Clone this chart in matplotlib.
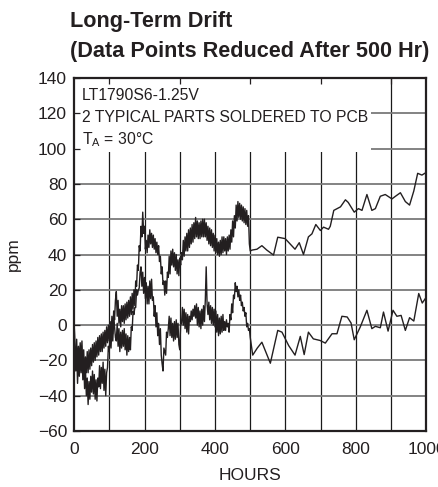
import numpy as np
import matplotlib
matplotlib.use('Agg')
from matplotlib import pyplot as plt
from matplotlib.patches import Rectangle

plt.rcParams['font.family'] = ['Liberation Sans', 'DejaVu Sans']
plt.rcParams['mathtext.default'] = 'regular'
INK = '#231f20'

# dense readings, one every 2.5 hr from 0 to 500 hr
dense_step = 2.5
part_a_dense = [
    3, -12, -20, -8, -24, -12, -21, -10, -20, -9, -24, -14, -30, -18, -27, -15,
    -27, -14, -25, -13, -23, -11, -21, -10, -20, -9, -18, -7, -17, -6, -15, -5,
    -15, -4, -13, -3, -12, -1, -10, 0, -9, 2, -6, 5, -5, 8, 3, 14,
    19, 5, 14, 1, 9, -1, 11, 2, 11, 1, 12, 3, 13, 4, 14, 5,
    16, 6, 18, 9, 20, 11, 25, 22, 34, 31, 45, 42, 56, 50, 64, 52,
    56, 43, 48, 41, 51, 44, 54, 46, 52, 44, 51, 43, 49, 41, 47, 40,
    45, 36, 39, 29, 33, 23, 25, 17, 25, 18, 30, 27, 39, 29, 42, 34,
    43, 33, 41, 31, 40, 29, 37, 28, 38, 34, 41, 37, 48, 39, 50, 42,
    52, 42, 54, 44, 55, 46, 57, 47, 58, 49, 61, 50, 59, 49, 58, 49,
    59, 50, 60, 50, 60, 50, 58, 48, 56, 46, 55, 45, 54, 44, 52, 42,
    51, 41, 49, 40, 47, 39, 48, 40, 50, 41, 50, 42, 49, 40, 50, 42,
    51, 43, 54, 47, 59, 50, 62, 55, 68, 59, 70, 61, 69, 60, 68, 59,
    67, 58, 66, 57, 65, 56, 62, 46, 42]
part_b_dense = [
    6, -16, -26, -14, -33, -19, -29, -16, -27, -15, -31, -21, -36, -25, -40, -30,
    -45, -32, -42, -29, -38, -26, -39, -28, -42, -31, -43, -30, -35, -23, -36, -24,
    -33, -21, -37, -25, -40, -27, -24, -12, -15, -4, -13, -1, -9, 3, -1, -7,
    -9, 1, -12, -2, -15, -4, -13, -3, -12, -2, -14, -5, -17, -6, -15, -7,
    -14, -1, -3, 8, 6, 10, 10, 20, 17, 20, 21, 30, 33, 22, 30, 18,
    27, 15, 24, 12, 22, 12, 25, 15, 26, 14, 16, 5, 11, -1, 7, -6,
    1, -11, -2, -17, -22, -26, -13, -15, -17, -4, -7, -2, 5, -6, 4, -7,
    1, -9, 2, -8, 3, -7, 1, -11, -14, 0, 1, 10, 0, 9, -2, 7,
    -4, 6, -5, 5, 2, 8, 3, 9, 5, 11, 4, 12, 0, 10, -1, 8,
    -2, 9, 0, 11, 2, 14, 33, 12, 6, 13, 3, 11, 1, 10, 0, 9,
    -1, 8, -4, 6, -6, 4, -5, 5, -4, 6, -3, 2, -3, 3, -1, 1,
    -4, 6, 3, 12, 7, 17, 15, 24, 19, 22, 16, 20, 14, 17, 11, 13,
    8, 10, 5, 7, -1, 1, -3, -2, -7]

# reduced readings after 500 hr
part_a_hours = [505, 519, 533, 547, 566, 578, 599, 613, 627, 639, 651, 665, 675, 686,
                699, 708, 722, 727, 737, 756, 770, 778, 795, 807, 817, 831, 845, 855,
                869, 883, 902, 912, 926, 940, 952, 964, 975, 987, 1000]
part_a_sparse = [42.5, 43, 45, 42.5, 39.7, 49.8, 49, 46, 43, 46.7, 40, 50, 51.7, 57,
                 53.6, 55.5, 54.3, 56, 65, 67, 71, 69.5, 64, 66, 65, 74, 65, 66,
                 73, 74, 71.5, 73, 75, 70, 68, 76, 86, 85, 86.6]
part_b_hours = [507, 520, 533, 557, 578, 590, 609, 627, 642, 653, 665, 679, 698, 713,
                732, 746, 760, 775, 786, 795, 812, 831, 845, 855, 869, 878, 891, 905,
                916, 928, 940, 952, 964, 978, 988, 1000]
part_b_sparse = [-17, -13, -9.7, -21.6, -3, -4, -11.6, -17, -6.4, -16.7, -4, -7.8, -8.7, -10.2,
                 -4.9, -4.9, 5, 4.6, 1.2, -8.3, -1.1, 8.4, -2, -0.7, -1.5, 7.4, -3.4, 8.4,
                 5, 5.5, -3, 4.2, 2.3, 17.9, 12.5, 16]

x_ticks = [0, 200, 400, 600, 800, 1000]
y_ticks = [-60, -40, -20, 0, 20, 40, 60, 80, 100, 120, 140]
notes = ['LT1790S6-1.25V', '2 TYPICAL PARTS SOLDERED TO PCB', r'T$_A$ = 30°C']

dense_hours = np.arange(len(part_a_dense)) * dense_step
hours_a = np.concatenate([dense_hours, part_a_hours])
ppm_a = np.concatenate([part_a_dense, part_a_sparse])
hours_b = np.concatenate([dense_hours, part_b_hours])
ppm_b = np.concatenate([part_b_dense, part_b_sparse])

fig = plt.figure(figsize=(4.39, 4.87), dpi=100)
ax = fig.add_axes([0.1686, 0.115, 0.8029, 0.7248])

ax.set_xlim(0, 1000)
ax.set_ylim(-60, 140)
for v in range(100, 1000, 100):
    ax.axvline(v, color='#1a1a1a', lw=0.9, zorder=0.8)
for v in y_ticks[1:-1]:
    ax.axhline(v, color='#7a7a7a', lw=1.3, zorder=0.8)
ax.add_patch(Rectangle((0, 98), 843, 42, facecolor='white', edgecolor='none', zorder=1))

ax.plot(hours_a, ppm_a, color=INK, lw=1.0, zorder=2)
ax.plot(hours_b, ppm_b, color=INK, lw=1.0, zorder=2)

ax.set_xticks(x_ticks)
ax.set_yticks(y_ticks)
ax.set_yticklabels([str(t).replace('-', '\u2212') for t in y_ticks])
ax.set_xticks(range(0, 1001, 100), minor=True)
ax.tick_params(which='both', direction='in', top=True, right=False, length=4,
               width=0.9, color=INK, labelsize=12.5, labelcolor=INK, pad=5)
ax.tick_params(which='both', axis='x', length=0, pad=8)
ax.tick_params(which='minor', axis='x', top=True, bottom=False, length=4)
for s in ax.spines.values():
    s.set_color(INK)
    s.set_linewidth(1.6)

ax.set_xlabel('HOURS', fontsize=12.5, color=INK, labelpad=8)
ax.set_ylabel('ppm', fontsize=12.5, color=INK, labelpad=12)

for i, t in enumerate(notes):
    ax.text(0.022, 0.938 - i * 0.063, t, transform=ax.transAxes, fontsize=11.3,
            color=INK, va='baseline', zorder=3)

fig.text(0.159, 1 - 27 / 487, 'Long-Term Drift', fontsize=15.6, fontweight='bold',
         color=INK, va='baseline')
fig.text(0.159, 1 - 57 / 487, '(Data Points Reduced After 500 Hr)', fontsize=15.6,
         fontweight='bold', color=INK, va='baseline')

fig.savefig('out.png', dpi=100)
